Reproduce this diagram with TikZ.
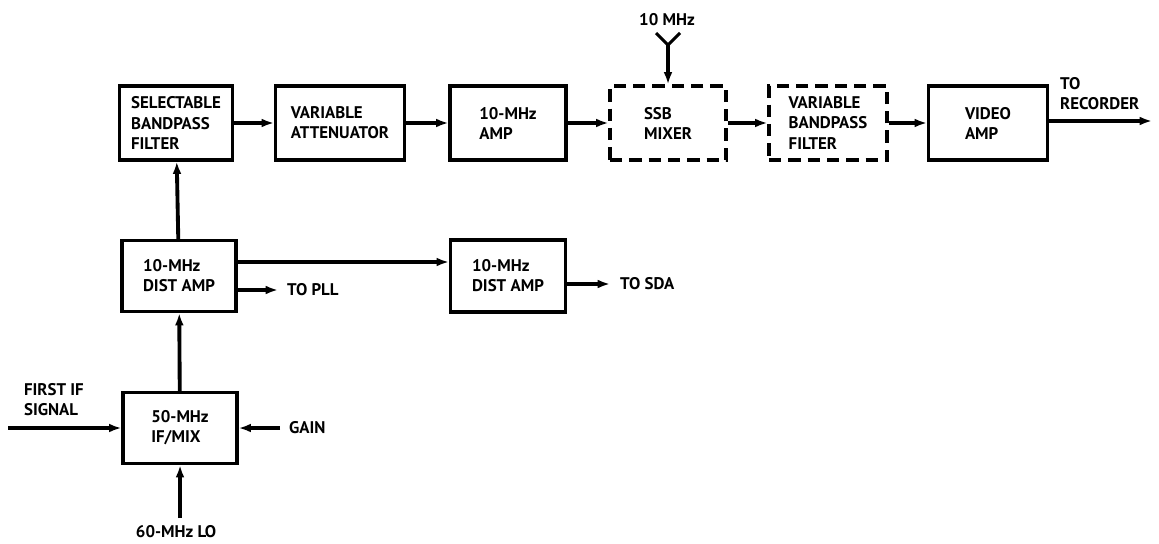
\documentclass[tikz,border=0pt]{standalone}
\usepackage{fontspec}
\setmainfont{PT Sans}
\usetikzlibrary{arrows.meta,positioning}

\begin{document}
\begin{tikzpicture}[x=0.02cm,y=-0.02cm,
  blk/.style={draw,line width=1.8pt,minimum height=1.48cm,align=left,
              inner sep=2pt,font=\bfseries\fontsize{9.6}{11.4}\selectfont},
  dblk/.style={blk,dash pattern=on 7pt off 4pt},
  lbl/.style={font=\bfseries\fontsize{9.6}{11.4}\selectfont,align=left,inner sep=1pt},
  sig/.style={line width=2.2pt,-{Latex[length=7pt,width=5pt]}}]
  \useasboundingbox (0,0) rectangle (1159,544);
  % signal row
  \node[blk,minimum width=2.26cm] (sbpf) at (176,123) {SELECTABLE\\BANDPASS\\FILTER};
  \node[blk,minimum width=2.58cm] (vatt) at (340,123) {VARIABLE\\ATTENUATOR};
  \node[blk,minimum width=2.32cm] (amp10) at (508,123) {10-MHz\\AMP};
  \node[dblk,minimum width=2.32cm] (ssb) at (668,123) {SSB\\MIXER};
  \node[dblk,minimum width=2.36cm] (vbpf) at (828,123) {VARIABLE\\BANDPASS\\FILTER};
  \node[blk,minimum width=2.38cm] (vid) at (988,123) {VIDEO\\AMP};
  % lower blocks
  \node[blk,minimum width=2.28cm,minimum height=1.42cm] (dist1) at (179,276) {10-MHz\\DIST AMP};
  \node[blk,minimum width=2.30cm,minimum height=1.44cm] (dist2) at (508,276) {10-MHz\\DIST AMP};
  \node[blk,minimum width=2.28cm,minimum height=1.42cm] (ifmix) at (180,428) {50-MHz\\IF/MIX};
  % free ends
  \coordinate (rec) at (1152,121);
  \coordinate (pll) at (278,290);
  \coordinate (sda) at (610,284);
  \coordinate (ifin) at (8,428);
  \coordinate (gain) at (280,428);
  \coordinate (lo) at (180,518);
  \coordinate (ant) at (668,45);
  % texts
  \node[lbl,anchor=south west] (trec) at (1058,112) {TO\\RECORDER};
  \node[lbl,anchor=west] (tpll) at (285,290) {TO PLL};
  \node[lbl,anchor=west] (tsda) at (618,284) {TO SDA};
  \node[lbl,anchor=south west] (tif) at (22,418) {FIRST IF\\SIGNAL};
  \node[lbl,anchor=west] (tgain) at (287,428) {GAIN};
  \node[lbl,anchor=north] (tlo) at (176,523) {60-MHz LO};
  \node[lbl] (tant) at (667,20) {10 MHz};
  % connectors
  \draw[sig] (sbpf) -- (vatt);
  \draw[sig] (vatt) -- (amp10);
  \draw[sig] (amp10) -- (ssb);
  \draw[sig] (ssb) -- (vbpf);
  \draw[sig] (vbpf) -- (vid);
  \draw[sig] (vid.east |- rec) -- (rec);
  \draw[line width=1.8pt] (ant) -- +(-12,-12) (ant) -- +(12,-12);
  \draw[sig] (ant) -- (ssb.north);
  \draw[sig] (dist1) -- (sbpf);
  \draw[sig] ([yshift=0.28cm]dist1.east) -- ([yshift=0.28cm]dist2.west);
  \draw[sig] (dist1.east |- pll) -- (pll);
  \draw[sig] (dist2.east |- sda) -- (sda);
  \draw[sig] (ifmix) -- (dist1);
  \draw[sig] (ifin) -- (ifmix);
  \draw[sig] (gain) -- (ifmix);
  \draw[sig] (lo) -- (ifmix);
\end{tikzpicture}
\end{document}
